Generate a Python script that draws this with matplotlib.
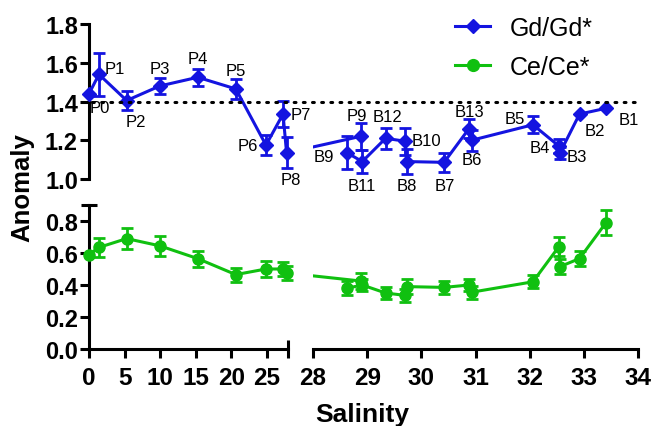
import numpy as np
import matplotlib
matplotlib.use("Agg")
import matplotlib.pyplot as plt
from matplotlib.lines import Line2D
from matplotlib.transforms import blended_transform_factory

plt.rcParams['font.family'] = ['Liberation Sans', 'DejaVu Sans']

# ---- river / plume stations (P) ----
p_names = ['P0', 'P1', 'P2', 'P3', 'P4', 'P5', 'P6', 'P7', 'P8', 'P9']
p_sal = [0.0, 1.4, 5.3, 9.95, 15.3, 20.65, 24.9, 27.3, 27.8, 28.88]
p_gd = [1.44, 1.54, 1.405, 1.48, 1.525, 1.465, 1.175, 1.335, 1.135, 1.22]
p_gd_err = [0, 0.11, 0.05, 0.043, 0.043, 0.05, 0.053, 0.067, 0.08, 0.07]
p_ce = [0.59, 0.635, 0.69, 0.645, 0.565, 0.465, 0.50, 0.50, 0.475, 0.425]
p_ce_err = [0, 0.06, 0.065, 0.063, 0.05, 0.044, 0.048, 0.045, 0.045, 0.05]

# ---- bay stations (B) ----
b_names = ['B1', 'B2', 'B3', 'B4', 'B5', 'B6', 'B7', 'B8', 'B9', 'B10', 'B11', 'B12', 'B13']
b_sal = [33.41, 32.92, 32.56, 32.54, 32.06, 30.93, 30.42, 29.73, 28.63, 29.70, 28.91, 29.34, 30.88]
b_gd = [1.365, 1.335, 1.135, 1.17, 1.28, 1.20, 1.086, 1.09, 1.135, 1.195, 1.09, 1.21, 1.26]
b_gd_err = [0, 0, 0.03, 0.035, 0.045, 0.055, 0.05, 0.065, 0.085, 0.07, 0.06, 0.055, 0.05]
b_ce = [0.79, 0.565, 0.515, 0.64, 0.42, 0.355, 0.385, 0.39, 0.38, 0.335, 0.40, 0.35, 0.40]
b_ce_err = [0.078, 0.049, 0.049, 0.058, 0.04, 0.04, 0.04, 0.045, 0.045, 0.04, 0.04, 0.037, 0.04]

gd_ref = 1.4
x_break = 28

# label offsets for the Gd points, in pixels (right, down)
label_offsets = {
    'P0': (11, 14), 'P1': (16, -6), 'P2': (9, 21), 'P3': (0, -18), 'P4': (0, -19),
    'P5': (0, -18), 'P6': (-18, 0), 'P7': (18, 0), 'P8': (4, 27), 'P9': (-4, -21),
    'B1': (23, 11), 'B2': (15, 16), 'B3': (17, 4), 'B4': (-19, 1), 'B5': (-18, -6),
    'B6': (0, 19), 'B7': (1, 23), 'B8': (0, 24), 'B9': (-23, 4), 'B10': (21, -1),
    'B11': (0, 24), 'B12': (2, -22), 'B13': (0, -17),
}

blue = '#1414E0'
green = '#10C010'

W, H = 654, 427
fig = plt.figure(figsize=(W / 100, H / 100), dpi=100)


def add_ax(x0, x1, y0, y1):
    # pixel box (top-left origin) -> figure axes
    return fig.add_axes([x0 / W, 1 - y1 / H, (x1 - x0) / W, (y1 - y0) / H])


ax_ul = add_ax(89, 288, 25, 180)
ax_ur = add_ax(313, 638, 25, 180)
ax_ll = add_ax(89, 288, 206, 350)
ax_lr = add_ax(313, 638, 206, 350)

for ax in (ax_ul, ax_ll):
    ax.set_xlim(0, x_break)
for ax in (ax_ur, ax_lr):
    ax.set_xlim(x_break, 34)
for ax in (ax_ul, ax_ur):
    ax.set_ylim(1.0, 1.8)
for ax in (ax_ll, ax_lr):
    ax.set_ylim(0, 0.9)

for ax in (ax_ul, ax_ur, ax_ll, ax_lr):
    ax.patch.set_visible(False)
    for s in ax.spines.values():
        s.set_visible(False)
        s.set_linewidth(2.2)
    ax.tick_params(width=2.2, length=6.5, color='black')

# y axes
for ax, ticks, brk in ((ax_ul, np.arange(1.0, 1.81, 0.2), 1.0), (ax_ll, np.arange(0, 0.81, 0.2), 0.9)):
    ax.spines['left'].set_visible(True)
    ax.set_yticks(ticks)
    ax.set_yticklabels([f'{t:.1f}' for t in ticks], fontsize=17, fontweight='bold')
    ax.set_yticks([brk], minor=True)
    ax.tick_params(axis='y', which='major', direction='out', pad=1.5)
    ax.tick_params(axis='y', which='minor', direction='inout', length=12, width=2.2)
    ax.set_xticks([])
for ax in (ax_ur, ax_lr, ax_ul):
    ax.set_xticks([])
for ax in (ax_ur, ax_lr):
    ax.set_yticks([])

# x axes
ax_ll.spines['bottom'].set_visible(True)
ax_ll.set_xticks(np.arange(0, 26, 5))
ax_ll.set_xticklabels([str(t) for t in range(0, 26, 5)], fontsize=17.5, fontweight='bold')
ax_ll.set_xticks([x_break], minor=True)
ax_lr.spines['bottom'].set_visible(True)
ax_lr.set_xticks(np.arange(28, 35))
ax_lr.set_xticklabels([str(t) for t in range(28, 35)], fontsize=17.5, fontweight='bold')
ax_lr.set_xticks([28, 34], minor=True)
for ax in (ax_ll, ax_lr):
    ax.tick_params(axis='x', which='major', direction='out', pad=5.5)
    ax.tick_params(axis='x', which='minor', direction='inout', length=13, width=2.2)


def to_other(ax_from, ax_to, x, y):
    return ax_to.transData.inverted().transform(ax_from.transData.transform((x, y)))


def draw_series(ax_l, ax_r, sal, val, err, color, marker, ms, names=None):
    order = np.argsort(sal)
    sal = np.asarray(sal)[order]
    val = np.asarray(val)[order]
    err = np.asarray(err)[order]
    left = sal <= x_break
    right = ~left
    # connecting line, carried across the axis break and clipped at each side
    xl, yl = list(sal[left]), list(val[left])
    xr, yr = list(sal[right]), list(val[right])
    if xl and xr:
        nx, ny = to_other(ax_r, ax_l, xr[0], yr[0])
        px, py = to_other(ax_l, ax_r, xl[-1], yl[-1])
        xl, yl = xl + [nx], yl + [ny]
        xr, yr = [px] + xr, [py] + yr
    if len(xl) > 1:
        ax_l.plot(xl, yl, color=color, lw=2.2, zorder=3)
    if len(xr) > 1:
        ax_r.plot(xr, yr, color=color, lw=2.2, zorder=3)
    for ax, m in ((ax_l, left), (ax_r, right)):
        if not m.any():
            continue
        e = ax.errorbar(sal[m], val[m], yerr=np.where(err[m] > 0, err[m], np.nan), fmt=marker,
                        color=color, ms=ms, elinewidth=2.0, capsize=4.3, capthick=2.0, zorder=4)
        for a in e.lines[0:1] + tuple(e.lines[1]) + tuple(e.lines[2]):
            a.set_clip_on(False)
    if names is not None:
        names = np.asarray(names)[order]
        for x, y, n in zip(sal, val, names):
            ax = ax_l if x <= x_break else ax_r
            dx, dy = label_offsets[n]
            ax.annotate(n, (x, y), xytext=(dx, -dy), textcoords='offset pixels',
                        ha='center', va='center', fontsize=12, annotation_clip=False, zorder=5)


draw_series(ax_ul, ax_ur, p_sal, p_gd, p_gd_err, blue, 'D', 7.5, p_names)
draw_series(ax_ul, ax_ur, b_sal, b_gd, b_gd_err, blue, 'D', 7.5, b_names)
draw_series(ax_ll, ax_lr, p_sal, p_ce, p_ce_err, green, 'o', 8)
draw_series(ax_ll, ax_lr, b_sal, b_ce, b_ce_err, green, 'o', 8)

# reference level for Gd/Gd*, spanning both x segments
tr = blended_transform_factory(fig.transFigure, ax_ul.transData)
fig.add_artist(Line2D([92 / W, 637 / W], [gd_ref, gd_ref], transform=tr, color='black',
                      lw=2.2, linestyle=(0, (0.6, 2.4)), dash_capstyle='round', zorder=2))

handles = [Line2D([], [], color=blue, marker='D', ms=7.5, lw=2.2),
           Line2D([], [], color=green, marker='o', ms=8.5, lw=2.2)]
fig.legend(handles, ['Gd/Gd*', 'Ce/Ce*'], loc='upper left', bbox_to_anchor=(455 / W, 1 - 17 / H),
           frameon=False, fontsize=18, handlelength=1.4, handletextpad=0.8, labelspacing=0.6,
           borderpad=0, borderaxespad=0)

fig.text(22 / W, 1 - 188 / H, 'Anomaly', rotation=90, ha='center', va='center',
         fontsize=18.5, fontweight='bold')
fig.text(362 / W, 1 - 421.7 / H, 'Salinity', ha='center', va='baseline',
         fontsize=19, fontweight='bold')

fig.savefig('out.png', dpi=100)
